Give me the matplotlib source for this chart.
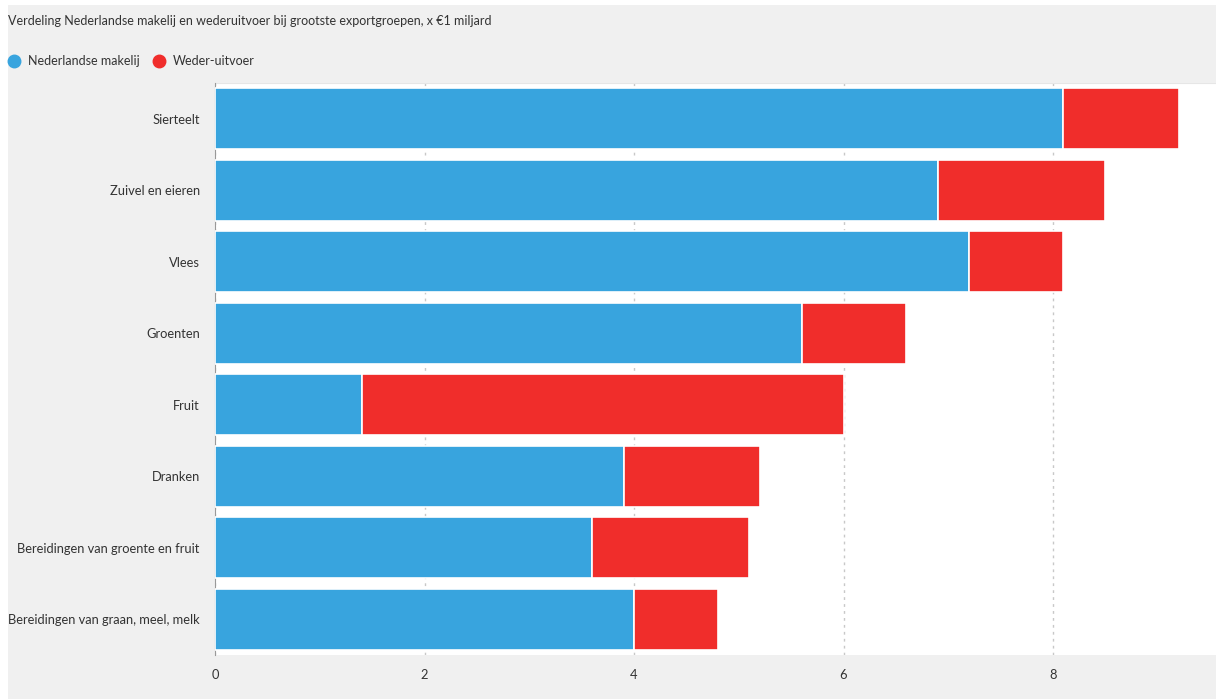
import matplotlib
matplotlib.use("Agg")
import matplotlib.pyplot as plt
from matplotlib.patches import Rectangle
from matplotlib.lines import Line2D

categories = ["Sierteelt", "Zuivel en eieren", "Vlees", "Groenten", "Fruit",
              "Dranken", "Bereidingen van groente en fruit",
              "Bereidingen van graan, meel, melk"]
makelij = [8.1, 6.9, 7.2, 5.6, 1.4, 3.9, 3.6, 4.0]
wederuitvoer = [1.1, 1.6, 0.9, 1.0, 4.6, 1.3, 1.5, 0.8]
xticks = [0, 2, 4, 6, 8]
title = "Verdeling Nederlandse makelij en wederuitvoer bij grootste exportgroepen, x €1 miljard"
series_names = ["Nederlandse makelij", "Weder-uitvoer"]

BLUE = "#38a4de"
RED = "#f02d2b"
TXT = "#333333"

plt.rcParams['font.family'] = ['Lato', 'DejaVu Sans']

W, H = 1216, 699
fig = plt.figure(figsize=(W / 100, H / 100), dpi=100)
fig.patch.set_facecolor("white")
fig.patches.append(Rectangle((8 / W, 0), 1 - 8 / W, 1 - 5 / H, transform=fig.transFigure,
                             facecolor="#f0f0f0", edgecolor="none", zorder=-10))

ax = fig.add_axes([215 / W, 1 - 655 / H, 1 - 215 / W, (655 - 83) / H])
ax.set_facecolor("white")

y = list(range(len(categories)))
ax.barh(y, makelij, height=0.86, color=BLUE, edgecolor="white", linewidth=1.2, zorder=3)
ax.barh(y, wederuitvoer, left=makelij, height=0.86, color=RED, edgecolor="white",
        linewidth=1.2, zorder=3)

ax.set_ylim(len(categories) - 0.5, -0.5)
ax.set_xlim(0, (1216 - 215) / 104.75)
ax.set_xticks(xticks)
ax.set_xticklabels([str(t) for t in xticks])
ax.set_yticks(y)
ax.set_yticklabels(categories)
ax.grid(axis="x", color="#c8c8c8", linestyle=(0, (2, 3)), linewidth=1, zorder=1)
for s in ["top", "right", "bottom"]:
    ax.spines[s].set_visible(False)
ax.spines["left"].set_color("#999999")
ax.tick_params(axis="y", length=0, pad=11, labelsize=9.3, labelcolor=TXT)
ax.tick_params(axis="x", length=0, pad=10, labelsize=9.3, labelcolor=TXT)
ax.axhline(-0.5, color="#e6e6e6", linewidth=1.5, zorder=2)

fig.text(8 / W, 1 - 21 / H, title, ha="left", va="center", fontsize=9, color=TXT)

handles = [Line2D([], [], marker="o", linestyle="none", markersize=9, color=BLUE),
           Line2D([], [], marker="o", linestyle="none", markersize=9, color=RED)]
fig.legend(handles, series_names, loc="center left", bbox_to_anchor=(4 / W, 1 - 61 / H),
           frameon=False, ncol=2, fontsize=9, handlelength=1.2, handletextpad=0.55,
           columnspacing=0.9, labelcolor=TXT, borderaxespad=0, borderpad=0.2)

fig.savefig("out.png", dpi=100, facecolor=fig.get_facecolor())
